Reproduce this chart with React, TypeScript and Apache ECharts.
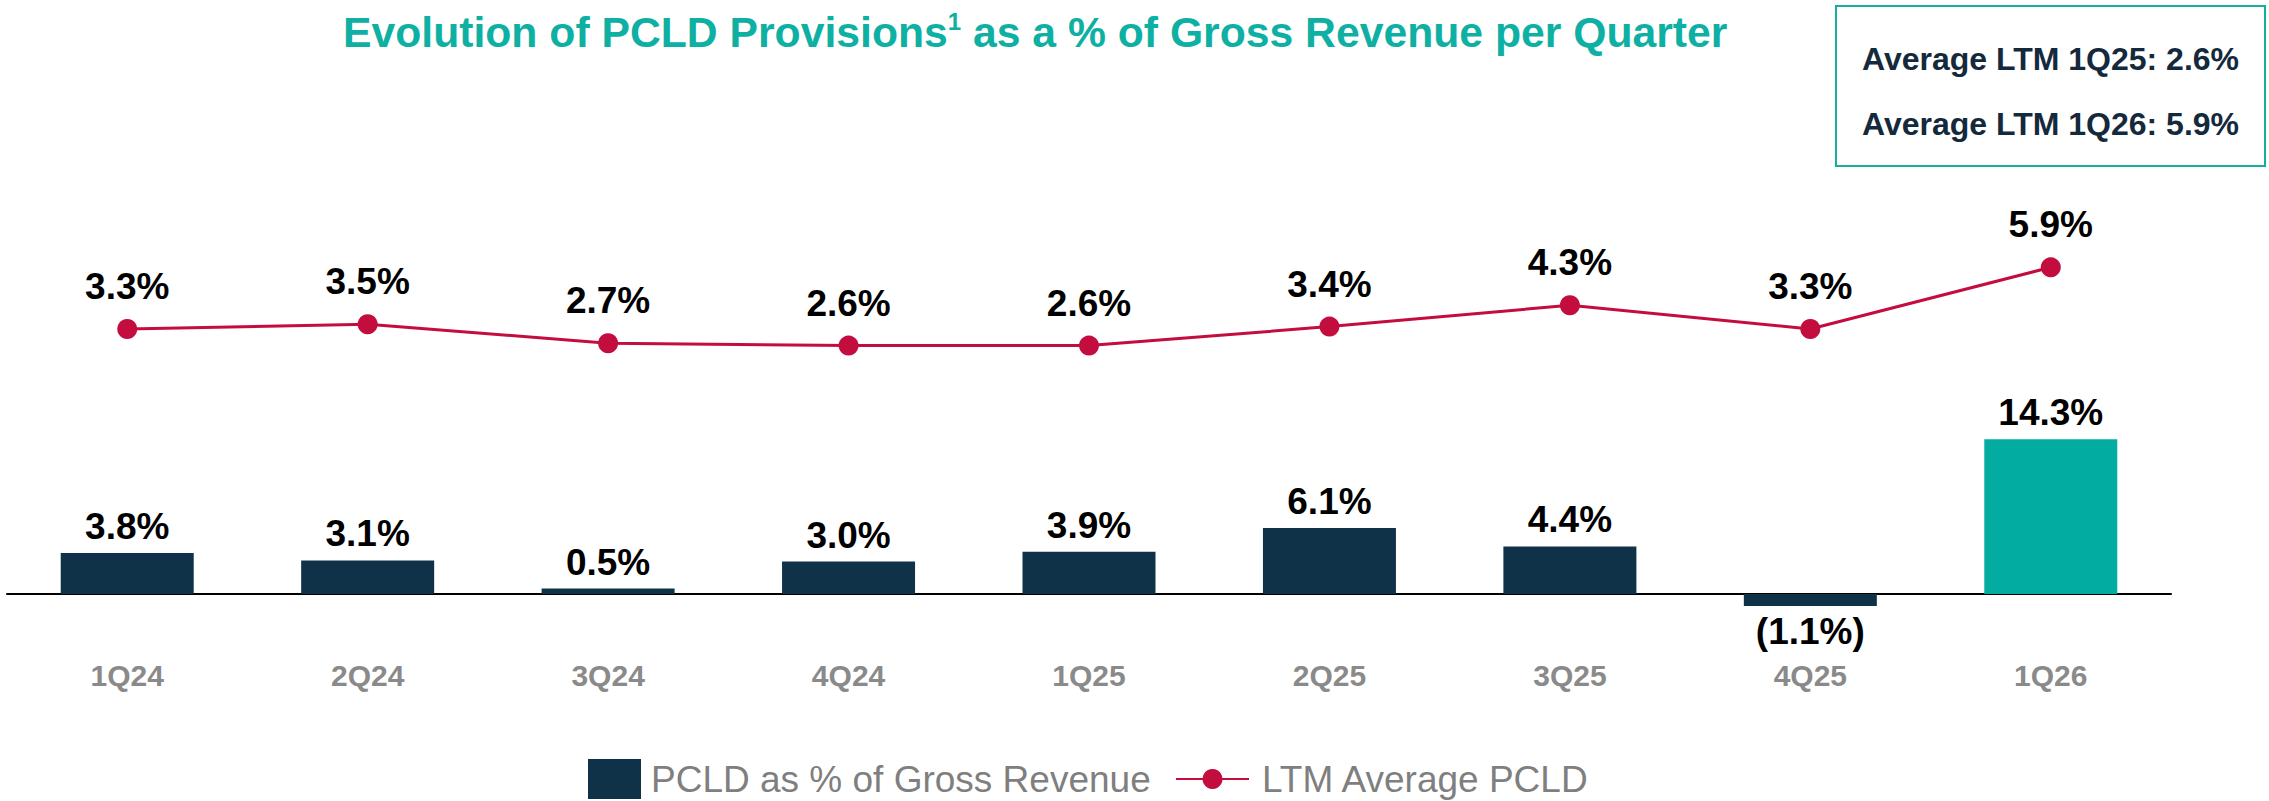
import React, { useEffect, useRef } from "react";
import * as echarts from "echarts";

// ---- Data ----
const categories = ["1Q24", "2Q24", "3Q24", "4Q24", "1Q25", "2Q25", "3Q25", "4Q25", "1Q26"];
const pcldPctOfGrossRevenue = [3.8, 3.1, 0.5, 3.0, 3.9, 6.1, 4.4, -1.1, 14.3];
const ltmAveragePcld = [3.3, 3.5, 2.7, 2.6, 2.6, 3.4, 4.3, 3.3, 5.9];
const seriesNames = ["PCLD as % of Gross Revenue", "LTM Average PCLD"];
const boxLines = ["Average LTM 1Q25: 2.6%", "Average LTM 1Q26: 5.9%"];
const titleParts = ["Evolution of PCLD Provisions", "1", " as a % of Gross Revenue per Quarter"];

// ---- Style / layout ----
const W = 2269;
const H = 801;
const FONT = "Arial, 'Liberation Sans', Helvetica, sans-serif";
const NAVY = "#0F3248";
const TEAL = "#02ACA0";
const TITLE_TEAL = "#0DB0A3";
const CRIMSON = "#C40D3F";
const GRAY = "#8A8A8A";

const gridLeft = 7;
const gridRight = 2171;
const gridTop = 150;
const gridBottomY = 615.6;
const barZeroY = 594;
const barPx = 10.82;
const lineZeroY = 407.3;
const linePx = 23.73;

const barMin = -(gridBottomY - barZeroY) / barPx;
const barMax = (barZeroY - gridTop) / barPx;
const lineMin = -(gridBottomY - lineZeroY) / linePx;
const lineMax = (lineZeroY - gridTop) / linePx;

const fmt = (v: number) => (v < 0 ? `(${Math.abs(v).toFixed(1)}%)` : `${v.toFixed(1)}%`);

export default function App() {
  const ref = useRef<HTMLDivElement>(null);

  useEffect(() => {
    if (!ref.current) return;
    const chart = echarts.init(ref.current, null, { renderer: "svg" });
    const last = pcldPctOfGrossRevenue.length - 1;

    const option: any = {
      animation: false,
      backgroundColor: "#ffffff",
      textStyle: { fontFamily: FONT },
      title: {
        text: `{t|${titleParts[0]}}{s|${titleParts[1]}}{t|${titleParts[2]}}`,
        left: 343,
        top: 9,
        padding: 0,
        textStyle: {
          rich: {
            t: { fontSize: 42.7, fontWeight: "bold", color: TITLE_TEAL, fontFamily: FONT, lineHeight: 46 },
            s: { fontSize: 24, fontWeight: "bold", color: TITLE_TEAL, fontFamily: FONT, lineHeight: 30, verticalAlign: "top" },
          },
        },
      },
      legend: [
        {
          data: [seriesNames[0]],
          left: 588,
          top: 759,
          padding: 0,
          itemWidth: 53,
          itemHeight: 40,
          icon: "rect",
          selectedMode: false,
          textStyle: { fontSize: 37, lineHeight: 37, color: "#7F7F7F", fontFamily: FONT, padding: [0, 0, 0, 5] },
        },
        {
          data: [seriesNames[1]],
          left: 1175,
          top: 760.5,
          padding: 0,
          itemWidth: 73,
          itemHeight: 25,
          selectedMode: false,
          textStyle: { fontSize: 37, lineHeight: 37, color: "#7F7F7F", fontFamily: FONT, padding: [0, 0, 0, 8] },
        },
      ],
      grid: {
        left: gridLeft,
        right: W - gridRight,
        top: gridTop,
        bottom: H - gridBottomY,
        containLabel: false,
      },
      xAxis: {
        type: "category",
        data: categories,
        axisLine: { show: true, onZero: true, onZeroAxisIndex: 0, lineStyle: { color: "#000000", width: 2 } },
        axisTick: { show: false },
        axisLabel: {
          color: GRAY,
          fontSize: 30,
          fontWeight: "bold",
          fontFamily: FONT,
          margin: 45,
          lineHeight: 30,
        },
        splitLine: { show: false },
      },
      yAxis: [
        { type: "value", min: barMin, max: barMax, show: false, splitLine: { show: false } },
        { type: "value", min: lineMin, max: lineMax, show: false, splitLine: { show: false } },
      ],
      series: [
        {
          name: seriesNames[0],
          type: "bar",
          yAxisIndex: 0,
          barWidth: 133,
          itemStyle: { color: NAVY },
          data: pcldPctOfGrossRevenue.map((v, i) => ({
            value: v,
            itemStyle: i === last ? { color: TEAL } : undefined,
            label: { position: v < 0 ? "bottom" : "top", distance: v < 0 ? 7 : 8 },
          })),
          label: {
            show: true,
            formatter: (p: any) => fmt(p.value),
            fontSize: 37,
            fontWeight: "bold",
            color: "#000000",
            fontFamily: FONT,
            lineHeight: 37,
          },
        },
        {
          name: seriesNames[1],
          type: "line",
          yAxisIndex: 1,
          data: ltmAveragePcld,
          symbol: "circle",
          symbolSize: 20,
          lineStyle: { color: CRIMSON, width: 3 },
          itemStyle: { color: CRIMSON },
          label: {
            show: true,
            position: "top",
            distance: 14,
            formatter: (p: any) => fmt(p.value),
            fontSize: 37,
            fontWeight: "bold",
            color: "#000000",
            fontFamily: FONT,
            lineHeight: 37,
          },
        },
      ],
      graphic: [
        {
          type: "group",
          left: 1835,
          top: 5,
          children: [
            {
              type: "rect",
              shape: { x: 0, y: 0, width: 429, height: 160 },
              style: { fill: "#ffffff", stroke: "#17AD9F", lineWidth: 2 },
            },
            {
              type: "text",
              x: 214.5,
              y: 53,
              style: {
                text: boxLines[0],
                fontSize: 32,
                fontWeight: "bold",
                fontFamily: FONT,
                fill: "#14293B",
                align: "center",
                verticalAlign: "middle",
              },
            },
            {
              type: "text",
              x: 214.5,
              y: 118,
              style: {
                text: boxLines[1],
                fontSize: 32,
                fontWeight: "bold",
                fontFamily: FONT,
                fill: "#14293B",
                align: "center",
                verticalAlign: "middle",
              },
            },
          ],
        },
      ],
    };

    chart.setOption(option);
    return () => chart.dispose();
  }, []);

  return (
    <div
      ref={ref}
      style={{ position: "absolute", left: 0, top: 0, width: W, height: H, background: "#ffffff" }}
    />
  );
}
